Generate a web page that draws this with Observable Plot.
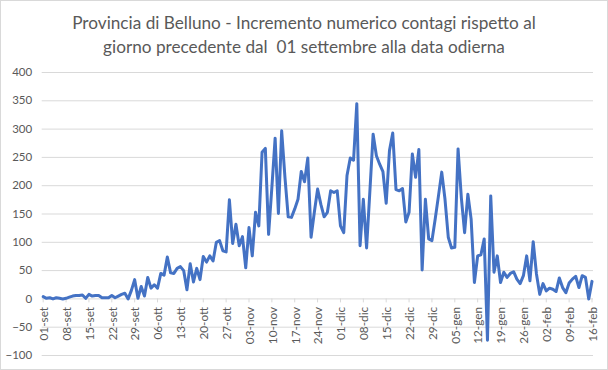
<!DOCTYPE html>
<html>
<head>
<meta charset="utf-8">
<script src="https://cdn.jsdelivr.net/npm/d3@7"></script>
<script src="https://cdn.jsdelivr.net/npm/@observablehq/plot@0.6"></script>
<style>
html, body { margin: 0; padding: 0; background: #fff; }
#wrap { position: relative; width: 608px; height: 370px; overflow: hidden; font-family: Lato, "Open Sans", sans-serif; background: #fff; }
#title { height: 60px; box-sizing: border-box; padding-top: 11px; text-align: center; color: #595959; font-size: 17.2px; line-height: 24px; white-space: nowrap; }
#frame { position: absolute; left: 0; top: 0; width: 606px; height: 368px; border: 1px solid #d9d9d9; pointer-events: none; }
#chart svg { display: block; }
</style>
</head>
<body>
<div id="wrap">
  <div id="title">Provincia di Belluno - Incremento numerico contagi rispetto al<br>giorno precedente dal&nbsp; 01 settembre alla data odierna</div>
  <div id="chart"></div>
  <div id="frame"></div>
</div>
<script>
// Daily increments, one array per month (1 Sep 2020 -> 16 Feb 2021)
const startDate = "2020-09-01";
const valuesSet = [4,1,2,0,2,1,0,1,3,5,6,6,7,1,8,5,6,6,2,2,2,6,2,5,8,10,0,15,34,1];
const valuesOtt = [22,5,38,19,25,19,45,42,74,46,45,54,57,50,16,62,30,54,34,75,65,76,67,100,103,85,83,175,98,132,94];
const valuesNov = [110,55,126,76,153,129,259,266,114,197,284,151,297,215,145,144,159,176,225,207,249,109,153,194,167,145,153,191,188,191];
const valuesDic = [129,117,218,249,245,345,94,176,90,190,291,253,238,225,169,262,293,193,191,195,136,153,256,215,264,51,176,106,103,141,182];
const valuesGen = [224,176,109,90,91,265,179,117,185,141,29,76,78,106,-73,182,47,76,29,47,38,45,48,35,27,41,76,32,101,44,8];
const valuesFeb = [27,14,19,17,13,37,20,11,28,35,40,20,41,38,0,31];

const xTickLabels = ["01-set","08-set","15-set","22-set","29-set","06-ott","13-ott","20-ott","27-ott",
  "03-nov","10-nov","17-nov","24-nov","01-dic","08-dic","15-dic","22-dic","29-dic",
  "05-gen","12-gen","19-gen","26-gen","02-feb","09-feb","16-feb"];
const yTicks = [-100,-50,0,50,100,150,200,250,300,350,400];

const monthIdx = {set: 8, ott: 9, nov: 10, dic: 11, gen: 0, feb: 1};
function parseLabel(l) {
  const [dd, mm] = l.split("-");
  const m = monthIdx[mm];
  const yr = m >= 8 ? 2020 : 2021;
  return new Date(Date.UTC(yr, m, +dd));
}

const allValues = [...valuesSet, ...valuesOtt, ...valuesNov, ...valuesDic, ...valuesGen, ...valuesFeb];
const t0 = new Date(startDate + "T00:00:00Z");
const data = allValues.map((v, i) => ({date: new Date(t0.getTime() + i * 86400000), value: v}));
const ticks = xTickLabels.map(l => ({date: parseLabel(l), label: l}));

const chart = Plot.plot({
  width: 608,
  height: 310,
  marginTop: 12,
  marginBottom: 15,
  marginLeft: 42.7,
  marginRight: 16.5,
  style: {fontFamily: "Lato, 'Open Sans', sans-serif", fontSize: "11px", color: "#595959", background: "transparent"},
  x: {type: "utc", domain: [data[0].date, data[data.length - 1].date], axis: null},
  y: {domain: [-100, 400], axis: null},
  marks: [
    Plot.ruleY(yTicks, {stroke: "#d9d9d9", strokeWidth: 1, insetRight: -1.5, insetLeft: -1}),
    Plot.ruleX(ticks, {x: "date", y1: 0, y2: 0, insetBottom: -4, stroke: "#d9d9d9"}),
    Plot.axisY({ticks: yTicks, tickSize: 0, tickPadding: 11, label: null, fontSize: 11.5, fill: "#595959"}),
    Plot.text(ticks, {x: "date", y: 0, text: "label", rotate: -90, textAnchor: "end", dy: 8, dx: 1, fill: "#595959", fontSize: 11.8}),
    Plot.lineY(data, {x: "date", y: "value", stroke: "#4472C4", strokeWidth: 3, strokeLinejoin: "round", strokeLinecap: "round"})
  ]
});
document.getElementById("chart").appendChild(chart);
</script>
</body>
</html>
